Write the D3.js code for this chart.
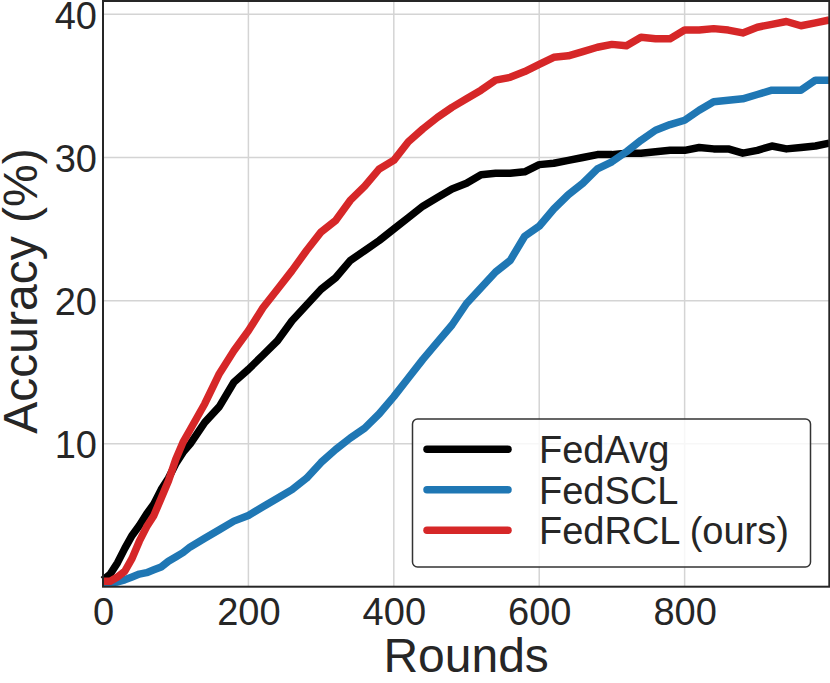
<!DOCTYPE html>
<html>
<head>
<meta charset="utf-8">
<script src="https://cdn.jsdelivr.net/npm/d3@7"></script>
<style>
  body { margin: 0; background: #fff; }
  svg text { font-family: "Liberation Sans", Arial, sans-serif; fill: #262626; }
</style>
</head>
<body>
<svg width="830" height="683"></svg>
<script>
// Rounds
const rounds = [0, 10, 20, 30, 40, 50, 60, 70, 80, 90, 100, 110, 120,
  140, 160, 180, 200, 220, 240, 260, 280, 300, 320, 340, 360, 380, 400,
  420, 440, 460, 480, 500, 520, 540, 560, 580, 600, 620, 640, 660, 680, 700,
  720, 740, 760, 780, 800, 820, 840, 860, 880, 900, 920, 940, 960, 980, 999];

const fedAvg = [0.5, 0.9, 1.7, 2.7, 3.6, 4.3, 5.1, 5.8, 6.8, 7.6, 8.6, 9.4, 10.0,
  11.5, 12.6, 14.3, 15.2, 16.2, 17.2, 18.6, 19.7, 20.8, 21.6, 22.8, 23.5, 24.2, 25.0,
  25.8, 26.6, 27.2, 27.8, 28.2, 28.8, 28.9, 28.9, 29.0, 29.5, 29.6, 29.8, 30.0, 30.2, 30.2,
  30.3, 30.3, 30.4, 30.5, 30.5, 30.7, 30.6, 30.6, 30.3, 30.5, 30.8, 30.6, 30.7, 30.8, 31.0];

const fedSCL = [0.3, 0.3, 0.35, 0.5, 0.7, 0.9, 1.0, 1.2, 1.4, 1.8, 2.1, 2.4, 2.8,
  3.4, 4.0, 4.6, 5.0, 5.6, 6.2, 6.8, 7.6, 8.7, 9.6, 10.4, 11.1, 12.1, 13.3,
  14.6, 15.9, 17.1, 18.3, 19.8, 20.9, 22.0, 22.8, 24.5, 25.2, 26.4, 27.4, 28.2, 29.2, 29.7,
  30.4, 31.2, 31.9, 32.3, 32.6, 33.3, 33.9, 34.0, 34.1, 34.4, 34.7, 34.7, 34.7, 35.4, 35.4];

const fedRCL = [0.4, 0.4, 0.7, 1.1, 2.0, 3.2, 4.2, 5.0, 6.2, 7.4, 8.9, 10.1, 11.0,
  12.8, 14.9, 16.5, 17.9, 19.5, 20.8, 22.1, 23.5, 24.8, 25.6, 27.0, 28.0, 29.2, 29.8,
  31.1, 32.0, 32.8, 33.5, 34.1, 34.7, 35.4, 35.6, 36.0, 36.5, 37.0, 37.1, 37.4, 37.7, 37.9,
  37.8, 38.4, 38.3, 38.3, 38.9, 38.9, 39.0, 38.9, 38.7, 39.1, 39.3, 39.5, 39.2, 39.4, 39.6];

const seriesNames = ["FedAvg", "FedSCL", "FedRCL (ours)"];
const seriesColors = ["#000000", "#1f77b4", "#d62728"];
const seriesValues = [fedAvg, fedSCL, fedRCL];

const xTicks = [0, 200, 400, 600, 800];
const yTicks = [10, 20, 30, 40];

const svg = d3.select("svg");
const plotLeft = 103, plotRight = 829.3, plotTop = 1, plotBottom = 586.7;

const x = d3.scaleLinear().domain([0, 999]).range([plotLeft, plotRight]);
const y = d3.scaleLinear().domain([0.02, 40.93]).range([plotBottom, plotTop]);

// grid
svg.selectAll(".gx").data(xTicks).enter().append("line")
  .attr("x1", d => x(d)).attr("x2", d => x(d))
  .attr("y1", plotTop).attr("y2", plotBottom)
  .attr("stroke", "#d4d4d4").attr("stroke-width", 1.5);
svg.selectAll(".gy").data(yTicks).enter().append("line")
  .attr("x1", plotLeft).attr("x2", plotRight)
  .attr("y1", d => y(d)).attr("y2", d => y(d))
  .attr("stroke", "#d4d4d4").attr("stroke-width", 1.5);

// lines
const line = d3.line().x((d, i) => x(rounds[i])).y(d => y(d));
seriesValues.forEach((vals, k) => {
  svg.append("path")
    .datum(vals)
    .attr("d", line)
    .attr("fill", "none")
    .attr("stroke", seriesColors[k])
    .attr("stroke-width", 7.5)
    .attr("stroke-linejoin", "round")
    .attr("stroke-linecap", "butt");
});

// axes
const xAxis = svg.append("g").attr("transform", `translate(0,${plotBottom})`)
  .call(d3.axisBottom(x).tickValues(xTicks).tickSize(0).tickPadding(11));
const yAxis = svg.append("g").attr("transform", `translate(${plotLeft},0)`)
  .call(d3.axisLeft(y).tickValues(yTicks).tickSize(0).tickPadding(6));
yAxis.selectAll("text").attr("dy", "0.37em");
[xAxis, yAxis].forEach(g => {
  g.select(".domain").remove();
  g.selectAll("text").attr("font-size", 38).attr("fill", "#262626")
    .style("font-family", "'Liberation Sans', Arial, sans-serif");
});

// frame
svg.append("rect")
  .attr("x", plotLeft).attr("y", plotTop)
  .attr("width", plotRight - plotLeft).attr("height", plotBottom - plotTop)
  .attr("fill", "none").attr("stroke", "#262626").attr("stroke-width", 2);

// axis titles
svg.append("text")
  .attr("x", (plotLeft + plotRight) / 2).attr("y", 672)
  .attr("text-anchor", "middle").attr("font-size", 48)
  .text("Rounds");
svg.append("text")
  .attr("transform", "translate(37,291) rotate(-90)")
  .attr("text-anchor", "middle").attr("font-size", 48)
  .text("Accuracy (%)");

// legend
const legend = svg.append("g");
legend.append("rect")
  .attr("x", 412.5).attr("y", 419).attr("width", 398).attr("height", 148)
  .attr("rx", 5).attr("ry", 5)
  .attr("fill", "#fff").attr("fill-opacity", 0.8)
  .attr("stroke", "#333").attr("stroke-width", 1.5);
seriesNames.forEach((name, i) => {
  const ly = 449.3 + i * 40.5;
  legend.append("line")
    .attr("x1", 427).attr("x2", 508)
    .attr("y1", ly).attr("y2", ly)
    .attr("stroke", seriesColors[i]).attr("stroke-width", 7.5)
    .attr("stroke-linecap", "round");
  legend.append("text")
    .attr("x", 539).attr("y", ly + 14)
    .attr("font-size", 38)
    .text(name);
});
</script>
</body>
</html>
